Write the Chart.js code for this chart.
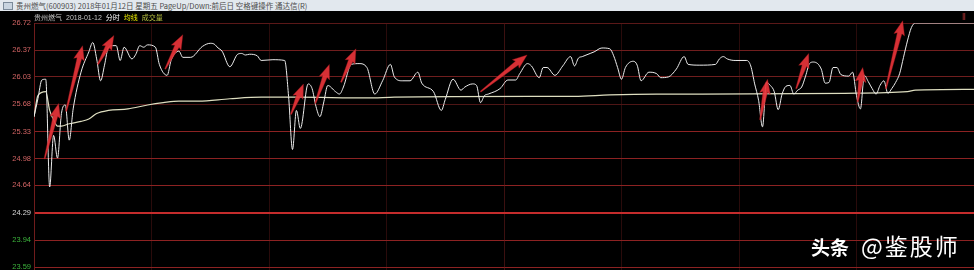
<!DOCTYPE html>
<html>
<head>
<meta charset="utf-8">
<script src="https://cdn.jsdelivr.net/npm/chart.js@4.4.1/dist/chart.umd.min.js"></script>
<style>
    html, body { margin: 0; padding: 0; background: #000; width: 974px; height: 270px; overflow: hidden; }
    #wrap { position: relative; width: 974px; height: 270px; overflow: hidden; background: #000; }
    #chart { position: absolute; left: 0; top: 0; }
    .titlebar {
        position: absolute; left: 0; top: 0; width: 974px; height: 11px; z-index: 2;
        background: #e2e8ee; color: #4c4c4c; white-space: nowrap;
        font: 7.5px 'Noto Sans CJK SC', sans-serif; line-height: 11px;
    }
    .titlebar .icon { position: absolute; left: 3px; top: 2px; width: 8px; height: 6px; border: 1px solid #7a8a9a; background: #c8d4e0; }
    .titlebar .txt { position: absolute; left: 16px; top: 0; }
    .subhead { position: absolute; left: 34px; top: 12px; z-index: 2; white-space: nowrap; font: 7px 'Noto Sans CJK SC', sans-serif; line-height: 10px; }
    .subhead span { margin-right: 4px; }
    .marker { position: absolute; left: 962px; top: 13px; z-index: 2; color: #a83030; font: 8px 'DejaVu Sans', sans-serif; }
    .watermark { position: absolute; left: 811px; top: 228px; z-index: 3; color: #fff; white-space: nowrap; font-family: 'Noto Sans CJK SC', sans-serif; }
    .watermark b { font-size: 19px; font-weight: 700; margin-right: 12px; }
    .watermark span { font-size: 23px; letter-spacing: 2px; }
</style>
</head>
<body>
<div id="wrap">
    <div class="titlebar"><div class="icon"></div><div class="txt">贵州燃气(600903) 2018年01月12日 星期五 PageUp/Down:前后日 空格键操作 通达信(R)</div></div>
    <div class="subhead"><span style="color:#c4c4c4">贵州燃气</span><span style="color:#c4c4c4;font-family:'Liberation Sans'">2018-01-12</span><span style="color:#fff">分时</span><span style="color:#e8e800">均线</span><span style="color:#b8c040">成交量</span></div>
    <div class="marker">Ⅱ</div>
    <canvas id="chart" width="974" height="410"></canvas>
    <div class="watermark"><b>头条</b><span>@鉴股师</span></div>
</div>
<script>
// previous close and price axis labels (limit-up 26.72 ... limit-down 21.86)
const prevClose = 24.29;
const yTickLabels = ['26.72', '26.37', '26.03', '25.68', '25.33', '24.98', '24.64', '24.29',
    '23.94', '23.59', '23.25', '22.90', '22.55', '22.21', '21.86'];
const timeTicks = [0, 30, 60, 90, 120, 150, 180, 210, 240];

// minute index since open, price
const priceMinutes = [0, 1, 2, 3, 4, 5, 6, 7, 8, 9, 10, 12, 14, 15, 16, 17, 18, 19, 20, 21, 22, 23, 25, 26, 27, 28, 29, 31, 32, 34,
    35, 37, 38, 40, 43, 45, 46, 47, 48, 50, 52, 53, 54, 55, 57, 58, 61, 64, 65, 66, 67, 68, 70, 71, 72, 73, 74, 75, 77, 78,
    79, 81, 83, 85, 87, 89, 91, 92, 94, 96, 98, 99, 102, 104, 105, 107, 109, 110, 112, 113, 114, 115, 116, 119, 121, 123, 124, 126, 127, 129,
    130, 131, 133, 135, 137, 138, 139, 140, 142, 143, 145, 147, 148, 149, 150, 151, 153, 154, 155, 157, 159, 160, 162, 164, 166, 167, 170, 174, 175, 176,
    177, 179, 182, 183, 184, 185, 186, 187, 188, 189, 190, 191, 192, 193, 194, 195, 196, 197, 198, 199, 201, 202, 203, 204, 205, 206, 208, 209, 210, 211,
    212, 213, 214, 215, 216, 217, 218, 219, 220, 221, 222, 223, 224, 225, 240];
const priceValues = [25.52, 25.75, 25.99, 26.00, 24.62, 25.28, 24.99, 25.56, 25.67, 25.22, 25.62, 26.09, 26.35, 26.47, 26.26, 25.98, 26.18, 26.41, 26.43, 26.43, 26.24, 26.41, 26.26, 26.32, 26.43, 26.41, 26.44, 26.41, 26.19, 26.05,
    26.24, 26.36, 26.28, 26.28, 26.42, 26.46, 26.45, 26.40, 26.36, 26.16, 26.32, 26.33, 26.31, 26.32, 26.30, 26.24, 26.25, 26.24, 25.78, 25.10, 25.60, 25.37, 25.94, 25.88, 25.65, 25.52, 25.71, 25.92, 25.84, 25.81,
    25.90, 26.19, 26.20, 26.15, 25.81, 25.98, 26.19, 26.03, 25.98, 25.98, 26.09, 25.95, 25.84, 25.60, 25.74, 26.00, 25.86, 25.90, 25.94, 25.92, 25.70, 25.79, 25.81, 25.88, 25.99, 25.99, 26.07, 26.20, 26.17, 26.02,
    26.15, 26.15, 26.05, 26.17, 26.29, 26.17, 26.27, 26.29, 26.33, 26.35, 26.40, 26.39, 26.30, 26.15, 26.00, 26.15, 26.23, 26.18, 25.98, 26.09, 26.07, 26.02, 26.03, 26.13, 26.29, 26.19, 26.18, 26.19, 26.26, 26.29,
    26.26, 26.24, 26.24, 26.17, 25.94, 25.73, 25.39, 25.96, 25.92, 25.84, 25.61, 25.81, 25.91, 25.92, 25.81, 25.86, 25.90, 26.04, 26.20, 26.22, 26.13, 25.95, 25.96, 26.15, 26.15, 26.06, 26.04, 26.09, 25.79, 25.62,
    26.05, 25.97, 25.88, 25.81, 25.92, 25.98, 25.82, 25.88, 25.96, 26.07, 26.28, 26.49, 26.66, 26.72, 26.72];

const avgMinutes = [0, 1, 3, 4, 5, 6, 7, 9, 12, 14, 16, 19, 24, 29, 33, 37, 42, 50, 58, 67, 85, 92, 127, 138, 147, 159, 170, 207, 223, 225, 240];
const avgValues = [25.52, 25.79, 25.84, 25.60, 25.48, 25.40, 25.40, 25.43, 25.46, 25.49, 25.56, 25.60, 25.62, 25.67, 25.70, 25.72, 25.72, 25.75, 25.77, 25.77,
    25.76, 25.77, 25.78, 25.78, 25.80, 25.81, 25.81, 25.82, 25.84, 25.86, 25.87];

// red annotation arrows, [minute, price] from tail to tip
const arrowFrom = [[2.7, 24.98], [8.2, 25.59], [16.3, 26.19], [33.5, 26.13], [65.6, 25.55], [71.8, 25.69], [78.4, 25.96], [114.0, 25.84], [185.4, 25.48], [194.6, 25.88], [210.3, 25.71], [217.5, 25.88]];
const arrowTo = [[6.3, 25.69], [12.4, 26.43], [20.4, 26.56], [38.0, 26.57], [68.8, 25.94], [75.4, 26.19], [82.2, 26.39], [125.9, 26.31], [187.3, 26.00], [197.8, 26.33], [211.6, 26.15], [221.8, 26.75]];

const toPoints = (xs, ys) => xs.map((x, i) => ({ x: x, y: ys[i] }));

const arrowPlugin = {
    id: 'arrows',
    afterDatasetsDraw(chart) {
        const { ctx, scales: { x, y } } = chart;
        ctx.save();
        arrowFrom.forEach((from, i) => {
            const x0 = x.getPixelForValue(from[0]), y0 = y.getPixelForValue(from[1]);
            const x1 = x.getPixelForValue(arrowTo[i][0]), y1 = y.getPixelForValue(arrowTo[i][1]);
            const len = Math.hypot(x1 - x0, y1 - y0);
            const ux = (x1 - x0) / len, uy = (y1 - y0) / len;
            const nx = -uy, ny = ux;
            const headLen = Math.min(13, len * 0.4);
            const bx = x1 - ux * headLen, by = y1 - uy * headLen;
            const pts = [
                [x0 + nx * 0.6, y0 + ny * 0.6],
                [bx + nx * 2.4, by + ny * 2.4],
                [bx + nx * 5.5 - ux * 1.5, by + ny * 5.5 - uy * 1.5],
                [x1, y1],
                [bx - nx * 5.5 - ux * 1.5, by - ny * 5.5 - uy * 1.5],
                [bx - nx * 2.4, by - ny * 2.4],
                [x0 - nx * 0.6, y0 - ny * 0.6]
            ];
            ctx.beginPath();
            pts.forEach((p, k) => k ? ctx.lineTo(p[0], p[1]) : ctx.moveTo(p[0], p[1]));
            ctx.closePath();
            ctx.fillStyle = 'rgba(232, 52, 58, 0.92)';
            ctx.fill();
            ctx.strokeStyle = 'rgba(150, 20, 25, 0.6)';
            ctx.lineWidth = 0.6;
            ctx.stroke();
        });
        ctx.restore();
    }
};

new Chart(document.getElementById('chart').getContext('2d'), {
    type: 'line',
    data: {
        datasets: [{
            label: '分时',
            data: toPoints(priceMinutes, priceValues),
            borderColor: '#ececec',
            borderWidth: 1,
            pointRadius: 0,
            cubicInterpolationMode: 'monotone'
        }, {
            label: '均线',
            data: toPoints(avgMinutes, avgValues),
            borderColor: '#dedec0',
            borderWidth: 1.2,
            pointRadius: 0,
            cubicInterpolationMode: 'monotone'
        }]
    },
    options: {
        responsive: false,
        devicePixelRatio: 1,
        animation: false,
        layout: { padding: { top: 23, bottom: 3, left: 0, right: 0 } },
        plugins: { legend: { display: false }, tooltip: { enabled: false } },
        scales: {
            x: {
                type: 'linear',
                min: 0,
                max: 240,
                afterBuildTicks: scale => { scale.ticks = timeTicks.map(v => ({ value: v })); },
                afterFit: scale => { scale.height = 0; },
                ticks: { display: false },
                border: { display: false },
                grid: {
                    drawTicks: false,
                    color: c => (c.tick.value === 120 ? '#3c1010' : (c.tick.value === 0 || c.tick.value === 240 ? '#6e1c1c' : '#2a0b0b'))
                }
            },
            y: {
                type: 'linear',
                min: parseFloat(yTickLabels[yTickLabels.length - 1]),
                max: parseFloat(yTickLabels[0]),
                afterBuildTicks: scale => { scale.ticks = yTickLabels.map(t => ({ value: parseFloat(t) })); },
                afterFit: scale => { scale.width = 34; },
                border: { display: true, color: '#701c1c' },
                ticks: {
                    autoSkip: false,
                    padding: 3,
                    font: { family: 'Liberation Sans', size: 7.5 },
                    color: c => (c.tick.value > prevClose ? '#d26464' : (c.tick.value < prevClose ? '#3cb43c' : '#d8d8d8')),
                    callback: (v, i) => yTickLabels[i]
                },
                grid: {
                    drawTicks: false,
                    color: c => {
                        const v = c.tick.value;
                        if (v === prevClose) return '#c42c2c';
                        if (v >= 26.7) return '#5a1818';
                        if (v > 25.5 && v < 25.8) return '#4e1616';
                        return v > 25.5 ? '#701e1e' : '#8c2222';
                    },
                    lineWidth: c => (c.tick.value === prevClose ? 2 : 1)
                }
            }
        }
    },
    plugins: [arrowPlugin]
});
</script>
</body>
</html>
